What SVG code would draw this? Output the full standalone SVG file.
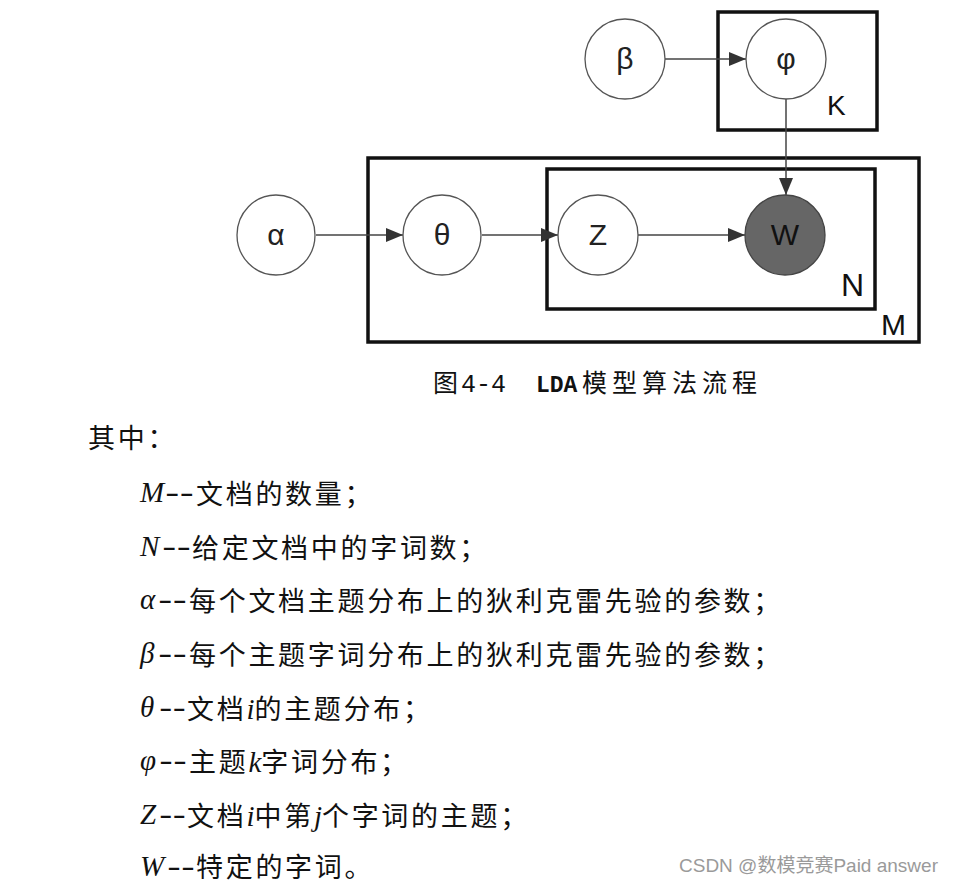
<svg xmlns="http://www.w3.org/2000/svg" width="953" height="886" viewBox="0 0 953 886">
<style>
.node{fill:#fff;stroke:#555;stroke-width:1.3}
.obs{fill:#666;stroke:#444;stroke-width:1.3}
.lbl{font-family:"Liberation Sans","DejaVu Sans",sans-serif;font-size:30px;fill:#222;text-anchor:middle}
.plate{fill:none;stroke:#111;stroke-width:3.5}
.plbl{font-family:"Liberation Sans","DejaVu Sans",sans-serif;font-size:30px;fill:#111}
.edge{stroke:#444;stroke-width:1.5;fill:none;marker-end:url(#ah)}
.t{font-family:"Noto Sans CJK SC",sans-serif;font-size:27px;fill:#111;letter-spacing:2.7px}
.m{font-family:"Liberation Serif","DejaVu Serif",serif;font-style:italic;font-size:29px;letter-spacing:0;fill:#111}
.d{font-family:"Liberation Sans","DejaVu Sans",sans-serif;font-size:27px;fill:#111}
.cap{font-family:"Noto Sans CJK SC",sans-serif;font-size:25px;fill:#111}
.mono{font-family:"Liberation Mono","DejaVu Sans Mono",monospace}
.wm{font-family:"Liberation Sans","Noto Sans CJK SC",sans-serif;font-size:19px;fill:#9a9a9a}
</style>
<defs>
<marker id="ah" viewBox="0 0 17 14" refX="17" refY="7" markerWidth="17" markerHeight="14" markerUnits="userSpaceOnUse" orient="auto">
<path d="M0,0 L17,7 L0,14 Z" fill="#333"/>
</marker>
</defs>

<g id="plate-K"><rect class="plate" x="718" y="12" width="159" height="118"/><text class="plbl" x="827" y="115" style="font-size:28px">K</text></g>
<g id="plate-M"><rect class="plate" x="368" y="158" width="551" height="184"/><text class="plbl" x="881" y="335">M</text></g>
<g id="plate-N"><rect class="plate" x="547" y="169" width="328" height="140"/><text class="plbl" x="841" y="296" style="font-size:32px">N</text></g>

<g id="edges">
<line class="edge" x1="665" y1="59" x2="746" y2="59"/>
<line class="edge" x1="786" y1="99" x2="786" y2="195"/>
<line class="edge" x1="316" y1="235" x2="403" y2="235"/>
<line class="edge" x1="482" y1="235" x2="558" y2="235"/>
<line class="edge" x1="638" y1="235" x2="745" y2="235"/>
</g>

<g id="node-beta"><ellipse class="node" cx="625" cy="59" rx="40" ry="40"/><text class="lbl" x="625" y="69">β</text></g>
<g id="node-phi"><ellipse class="node" cx="786" cy="59" rx="40" ry="40"/><text class="lbl" x="786" y="69">φ</text></g>
<g id="node-alpha"><ellipse class="node" cx="276" cy="235" rx="39" ry="40"/><text class="lbl" x="276" y="245">α</text></g>
<g id="node-theta"><ellipse class="node" cx="442" cy="235" rx="39" ry="40"/><text class="lbl" x="442" y="245">θ</text></g>
<g id="node-Z"><ellipse class="node" cx="598" cy="235" rx="40" ry="40"/><text class="lbl" x="598" y="245">Z</text></g>
<g id="node-W"><ellipse class="obs" cx="785" cy="235" rx="40" ry="40"/><text class="lbl" x="785" y="245" style="fill:#111">W</text></g>

<g id="caption">
<text class="cap" x="433" y="392">图</text>
<text class="cap mono" x="461" y="392">4-4</text>
<text class="cap mono" x="536" y="392" style="font-size:23px;font-weight:bold">LDA</text>
<text class="cap" x="582" y="392" style="letter-spacing:5px">模型算法流程</text>
</g>

<g id="legend">
<text class="t" x="88" y="448">其中：</text>

<text class="m" x="140" y="502">M</text>
<text class="d" x="165" y="502" textLength="29" lengthAdjust="spacingAndGlyphs">--</text>
<text class="t" x="196" y="504">文档的数量；</text>

<text class="m" x="140" y="556">N</text>
<text class="d" x="162" y="556" textLength="29" lengthAdjust="spacingAndGlyphs">--</text>
<text class="t" x="192" y="558">给定文档中的字词数；</text>

<text class="m" x="140" y="609">α</text>
<text class="d" x="158" y="609" textLength="29" lengthAdjust="spacingAndGlyphs">--</text>
<text class="t" x="189" y="611">每个文档主题分布上的狄利克雷先验的参数；</text>

<text class="m" x="140" y="663">β</text>
<text class="d" x="158" y="663" textLength="29" lengthAdjust="spacingAndGlyphs">--</text>
<text class="t" x="189" y="665">每个主题字词分布上的狄利克雷先验的参数；</text>

<text class="m" x="140" y="717">θ</text>
<text class="d" x="159" y="717" textLength="27" lengthAdjust="spacingAndGlyphs">--</text>
<text class="t" x="187" y="719">文档<tspan class="m">i</tspan>的主题分布；</text>

<text class="m" x="140" y="770">φ</text>
<text class="d" x="159" y="770" textLength="28" lengthAdjust="spacingAndGlyphs">--</text>
<text class="t" x="189" y="772">主题<tspan class="m">k</tspan>字词分布；</text>

<text class="m" x="140" y="824">Z</text>
<text class="d" x="159" y="824" textLength="27" lengthAdjust="spacingAndGlyphs">--</text>
<text class="t" x="187" y="826">文档<tspan class="m">i</tspan>中第<tspan class="m">j</tspan>个字词的主题；</text>

<text class="m" x="140" y="876">W</text>
<text class="d" x="167" y="876" textLength="28" lengthAdjust="spacingAndGlyphs">--</text>
<text class="t" x="196" y="877">特定的字词。</text>
</g>

<text class="wm" x="679" y="872">CSDN @数模竞赛Paid answer</text>
</svg>
